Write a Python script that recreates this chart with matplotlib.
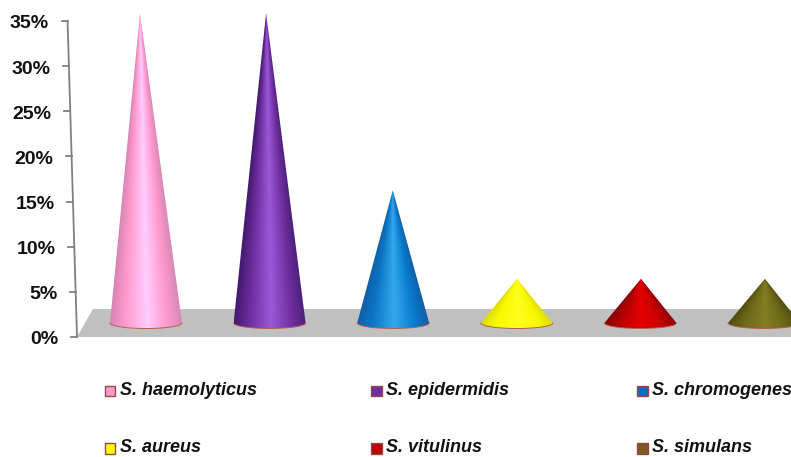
import numpy as np
import matplotlib
matplotlib.use('Agg')
import matplotlib.pyplot as plt
from matplotlib.colors import LinearSegmentedColormap
from matplotlib.patches import Polygon, Rectangle

species = ['S. haemolyticus', 'S. epidermidis', 'S. chromogenes',
           'S. aureus', 'S. vitulinus', 'S. simulans']
percent = [35, 35, 15, 5, 5, 5]
y_ticks = [0, 5, 10, 15, 20, 25, 30, 35]

# shading across each cone, left edge -> highlight -> right edge
cone_shades = [
    ['#d984b4', '#ff99cc', '#ffccff', '#ff99cc', '#d68ab6'],
    ['#43196f', '#6a2c9c', '#9c58d8', '#7030a0', '#4b1f7c'],
    ['#1060a8', '#0a74c4', '#33a8f0', '#0a7ccc', '#1060a8'],
    ['#dcdc00', '#f8f800', '#ffff20', '#f8f800', '#dcdc00'],
    ['#7c0000', '#b40000', '#e60000', '#c80000', '#8c0000'],
    ['#4e4a12', '#6b6618', '#827e24', '#6b6618', '#4e4a12'],
]
legend_colors = ['#ff99cc', '#7030a0', '#0070c0', '#ffff00', '#c00000', '#7f5a1e']

plt.rcParams['font.family'] = ['Liberation Sans', 'DejaVu Sans']

fig = plt.figure(figsize=(7.91, 4.57), dpi=100)
ax = fig.add_axes([0, 0, 1, 1])
ax.axis('off')

# floor of the 3D chart
ax.add_patch(Polygon([(77, 337), (93, 309), (791, 309), (791, 337)],
                     closed=True, fc='#c0c0c0', ec='none', zorder=1))

# slanted value axis
axis_x = lambda v: 77 - 0.27 * v
axis_y = lambda v: 337 - 9.03 * v
ax.plot([axis_x(0), axis_x(35)], [axis_y(0), axis_y(35)], color='#808080', lw=1.3, zorder=2)
for v in y_ticks:
    ax.plot([axis_x(v) - 6, axis_x(v)], [axis_y(v), axis_y(v)], color='#808080', lw=1.3, zorder=2)
    ax.text(axis_x(v) - 18.5, axis_y(v) + 3, f'{v}%', ha='right', va='center',
            fontsize=14, fontweight='bold', color='#111111')

# cones, the tips lean slightly towards the centre of the view
base_y = 323
half_w = 36
rim = 5.5
height_scale = 8.85
view_x = 443
lean = 0.0202 / 35
for i, v in enumerate(percent):
    cx = 146 + i * 123.6
    tip_y = base_y - height_scale * v
    tip_x = cx + (cx - view_x) * lean * v
    xs = np.linspace(cx - half_w, cx + half_w, 180)
    ys = np.linspace(tip_y, base_y + rim, 400)
    gx, gy = np.meshgrid(xs, ys)
    frac = np.clip((gy - tip_y) / (base_y - tip_y), 0.001, 1)
    mid = tip_x + (cx - tip_x) * frac
    u = np.clip((gx - mid) / (half_w * frac), -1, 1)
    cmap = LinearSegmentedColormap.from_list(
        f'cone{i}', list(zip([0, 0.2, 0.52, 0.8, 1], cone_shades[i])))
    im = ax.imshow((u + 1) / 2, cmap=cmap, vmin=0, vmax=1, aspect='auto', zorder=3,
                   extent=(xs[0], xs[-1], ys[-1], ys[0]), interpolation='bilinear')
    t = np.linspace(np.pi, 0, 50)
    rim_x = cx + half_w * np.cos(t)
    rim_y = base_y + rim * np.sin(t)
    outline = np.column_stack([np.r_[tip_x, rim_x], np.r_[tip_y, rim_y]])
    shape = Polygon(outline, closed=True, fc='none', ec='none')
    ax.add_patch(shape)
    im.set_clip_path(shape)
    ax.plot(rim_x, rim_y, color='#b8604a', lw=0.7, zorder=4)

# legend, two rows of three
legend_x = [104.5, 371, 637]
legend_y = [391, 448.5]
for i, name in enumerate(species):
    lx = legend_x[i % 3]
    ly = legend_y[i // 3]
    ax.add_patch(Rectangle((lx, ly - 5.5), 10.5, 10.5, fc=legend_colors[i], ec='#8f4a4a', lw=1, zorder=3))
    ax.text(lx + 15, ly - 0.5, name, ha='left', va='center', fontsize=12.95,
            fontweight='bold', fontstyle='italic', color='#111111')

ax.set_xlim(0, 791)
ax.set_ylim(457, 0)

fig.savefig('out.png', dpi=100)
